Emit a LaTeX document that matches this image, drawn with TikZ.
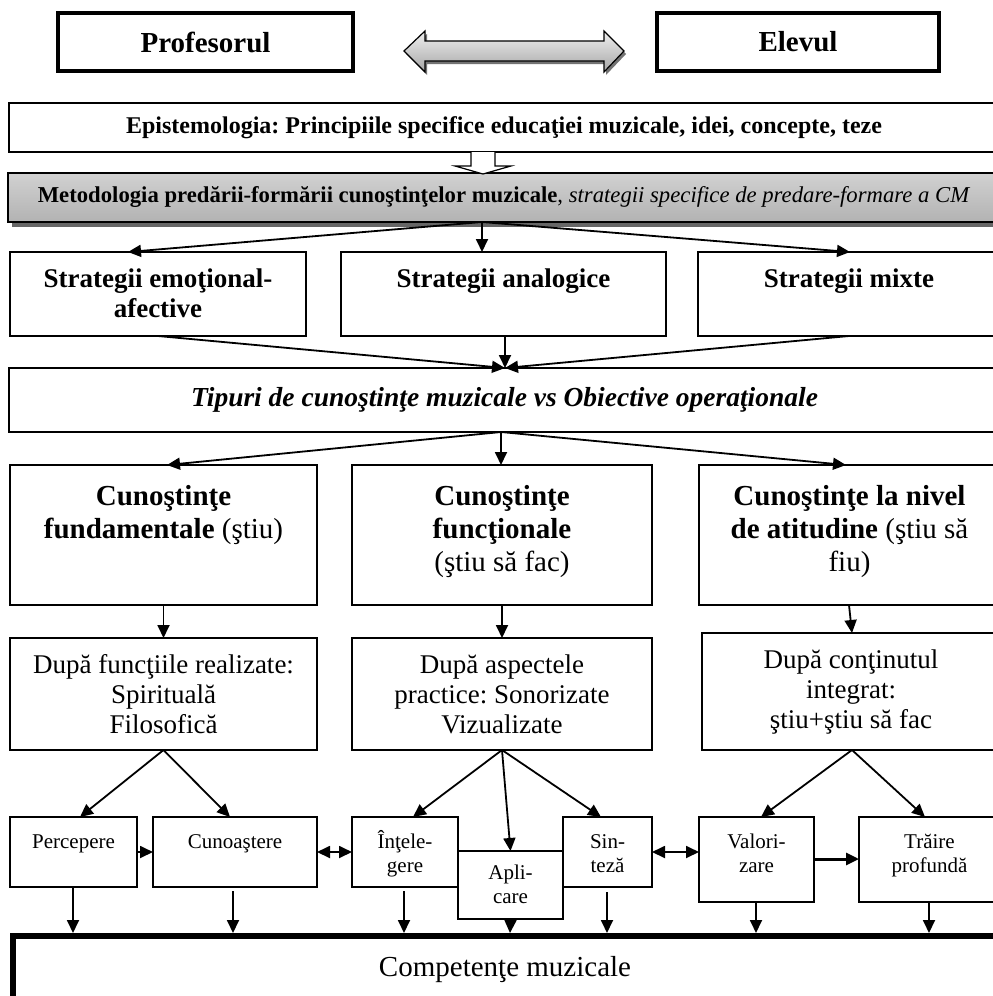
\documentclass[tikz,border=0pt]{standalone}
\usepackage{fontspec}
\setmainfont{Liberation Serif}
\usetikzlibrary{arrows.meta,calc}
\newcommand{\tstr}{\rule{0pt}{1em}}
\begin{document}
\frenchspacing
\begin{tikzpicture}[x=1pt,y=-1pt,
  box/.style={draw, line width=1.5pt, inner sep=0pt, outer sep=0pt, anchor=north west},
  thickbox/.style={box, line width=4pt},
  txt/.style={inner sep=0pt, anchor=north, align=center},
  arr/.style={line width=1.8pt, -{Triangle[length=13pt,width=12pt]}},
  dbl/.style={line width=1.8pt, {Triangle[length=13pt,width=12pt]}-{Triangle[length=13pt,width=12pt]}},
  fbig/.style={font=\fontsize{29}{33}\selectfont},
  fmid/.style={font=\fontsize{27}{30}\selectfont},
  fmidb/.style={font=\fontsize{27}{30}\selectfont\bfseries},
  fsmall/.style={font=\fontsize{21}{24}\selectfont},
]
\fill[white] (0,0) rectangle (993,996);
\useasboundingbox (0,0) rectangle (993,996);
\clip (0,0) rectangle (993,996);

% top row
\node[thickbox, minimum width=295pt, minimum height=58pt, font=\fontsize{29}{33}\selectfont\bfseries] (prof) at (58,13) {Profesorul};
\node[thickbox, minimum width=282pt, minimum height=58pt, font=\fontsize{29}{33}\selectfont\bfseries] (elev) at (657,13) {Elevul};
\fill[black!55] (406,54) -- (427,34) -- (427,44) -- (606,44) -- (606,34) -- (626,54) -- (606,75) -- (606,64) -- (427,64) -- (427,75) -- cycle;
\shade[top color=black!6, bottom color=black!35, draw=black, line width=1.2pt]
  (404,51) -- (425,31) -- (425,41) -- (604,41) -- (604,31) -- (624,51) -- (604,72) -- (604,61) -- (425,61) -- (425,72) -- cycle;

% epistemologia / metodologia
\node[box, minimum width=990pt, minimum height=49pt, font=\fontsize{24}{27}\selectfont\bfseries] (epis) at (9,103)
  {Epistemologia: Principiile specifice educaţiei muzicale, idei, concepte, teze};
\fill[black!60] (12,177) rectangle (1005,227);
\node[box, minimum width=992pt, minimum height=49pt, top color=black!18, middle color=black!5, bottom color=black!30,
  font=\fontsize{22.7}{25}\selectfont] (meto) at (8,173)
  {\textbf{Metodologia predării-formării cunoştinţelor muzicale}, \textit{strategii specifice de predare-formare a CM}};
\filldraw[fill=white, draw=black, line width=1.2pt]
  (471,152) -- (471,166) -- (455,166) -- (483,174) -- (511,166) -- (495,166) -- (495,152);

% strategii
\node[box, minimum width=296pt, minimum height=84pt] (s1) at (10,252) {};
\node[box, minimum width=325pt, minimum height=84pt] (s2) at (341,252) {};
\node[box, minimum width=302pt, minimum height=84pt] (s3) at (698,252) {};
\node[txt, fmidb] (ts1) at ($(s1.north)+(0,8)$) {\tstr Strategii emoţional-\\afective};
\node[txt, fmidb] (ts2) at ($(s2.north)+(0,8)$) {\tstr Strategii analogice};
\node[txt, fmidb] (ts3) at ($(s3.north)+(0,8)$) {\tstr Strategii mixte};

% tipuri
\node[box, minimum width=991pt, minimum height=64pt, font=\fontsize{27.5}{30}\selectfont\bfseries\itshape] (tip) at (9,368)
  {Tipuri de cunoştinţe muzicale vs Obiective operaţionale};

% cunostinte
\node[box, minimum width=307pt, minimum height=140pt] (c1) at (10,465) {};
\node[box, minimum width=300pt, minimum height=140pt] (c2) at (352,465) {};
\node[box, minimum width=301pt, minimum height=140pt] (c3) at (699,465) {};
\node[txt, fbig] (tc1) at ($(c1.north)+(0,11)$) {\tstr\textbf{Cunoştinţe}\\\textbf{fundamentale} (ştiu)};
\node[txt, fbig] (tc2) at ($(c2.north)+(0,11)$) {\tstr\textbf{Cunoştinţe}\\\textbf{funcţionale}\\(ştiu să fac)};
\node[txt, fbig] (tc3) at ($(c3.north)+(0,11)$) {\tstr\textbf{Cunoştinţe la nivel}\\\textbf{de atitudine} (ştiu să\\fiu)};

% dupa
\node[box, minimum width=307pt, minimum height=112pt] (d1) at (10,638) {};
\node[box, minimum width=300pt, minimum height=112pt] (d2) at (352,638) {};
\node[box, minimum width=298pt, minimum height=117pt] (d3) at (702,633) {};
\node[txt, fmid] (td1) at ($(d1.north)+(0,8)$) {\tstr După funcţiile realizate:\\Spirituală\\Filosofică};
\node[txt, fmid] (td2) at ($(d2.north)+(0,8)$) {\tstr După aspectele\\practice: Sonorizate\\Vizualizate};
\node[txt, fmid] (td3) at ($(d3.north)+(0,8)$) {\tstr După conţinutul\\integrat:\\ştiu+ştiu să fac};

% bottom row
\node[box, minimum width=127pt, minimum height=70pt] (perc) at (10,817) {};
\node[box, minimum width=164pt, minimum height=70pt] (cuno) at (153,817) {};
\node[box, minimum width=106pt, minimum height=70pt] (inte) at (352,817) {};
\node[box, minimum width=105pt, minimum height=68pt] (apli) at (458,851) {};
\node[box, minimum width=89pt, minimum height=70pt] (sint) at (563,817) {};
\node[box, minimum width=115pt, minimum height=85pt] (valo) at (699,817) {};
\node[box, minimum width=141pt, minimum height=85pt] (trai) at (859,817) {};
\node[txt, fsmall] (tperc) at ($(perc.north)+(0,10)$) {\tstr Percepere};
\node[txt, fsmall] (tcuno) at ($(cuno.north)+(0,10)$) {\tstr Cunoaştere};
\node[txt, fsmall] (tinte) at ($(inte.north)+(0,10)$) {\tstr Înţele-\\gere};
\node[txt, fsmall] (tapli) at ($(apli.north)+(0,7)$) {\tstr Apli-\\care};
\node[txt, fsmall] (tsint) at ($(sint.north)+(0,10)$) {\tstr Sin-\\teză};
\node[txt, fsmall] (tvalo) at ($(valo.north)+(0,10)$) {\tstr Valori-\\zare};
\node[txt, fsmall] (ttrai) at ($(trai.north)+(0,10)$) {\tstr Trăire\\profundă};

% competente
\node[box, line width=6pt, outer sep=3pt, minimum width=995pt, minimum height=90pt] (comp) at (10,933) {};
\node[txt, font=\fontsize{29}{32}\selectfont] (tcomp) at (505,947) {\tstr Competenţe muzicale};

% connectors
\draw[arr] (meto.south -| 482,0) -- (s1.north -| 128,0);
\draw[arr] (meto.south -| 482,0) -- (s2.north -| 482,0);
\draw[arr] (meto.south -| 482,0) -- (s3.north -| 850,0);
\draw[arr] (s1.south) -- (tip.north -| 505,0);
\draw[arr] (s2.south -| 505,0) -- (tip.north -| 505,0);
\draw[arr] (s3.south) -- (tip.north -| 505,0);
\draw[arr] (tip.south -| 501,0) -- (c1.north -| 167,0);
\draw[arr] (tip.south -| 501,0) -- (c2.north -| 501,0);
\draw[arr] (tip.south -| 501,0) -- (c3.north -| 846,0);
\draw[arr] (c1.south) -- (d1.north);
\draw[arr] (c2.south) -- (d2.north);
\draw[arr] (c3.south -| 849,0) -- (d3.north -| 852,0);
\draw[arr] (d1.south) -- (perc.north -| 80,0);
\draw[arr] (d1.south) -- (cuno.north -| 230,0);
\draw[arr] (d2.south) -- (inte.north -| 413,0);
\draw[arr] (d2.south) -- (apli.north);
\draw[arr] (d2.south) -- (sint.north -| 601,0);
\draw[arr] (d3.south -| 852,0) -- (valo.north -| 761,0);
\draw[arr] (d3.south -| 852,0) -- (trai.north -| 925,0);
\draw[arr] (perc.east |- 0,852) -- (cuno.west |- 0,852);
\draw[dbl] (cuno.east |- 0,852) -- (inte.west |- 0,852);
\draw[dbl] (sint.east |- 0,852) -- (valo.west |- 0,852);
\draw[arr, line width=3pt] (valo.east |- 0,859) -- (trai.west |- 0,859);
\draw[arr] (perc.south -| 73,0) -- (comp.north -| 73,0);
\draw[arr, shorten <=4pt] (cuno.south -| 233,0) -- (comp.north -| 233,0);
\draw[arr, shorten <=4pt] (inte.south -| 404,0) -- (comp.north -| 404,0);
\draw[arr] (apli.south) -- (comp.north -| 510,0);
\draw[arr, shorten <=5pt] (sint.south -| 607,0) -- (comp.north -| 607,0);
\draw[arr] (valo.south -| 756,0) -- (comp.north -| 756,0);
\draw[arr] (trai.south -| 929,0) -- (comp.north -| 929,0);
\end{tikzpicture}
\end{document}
